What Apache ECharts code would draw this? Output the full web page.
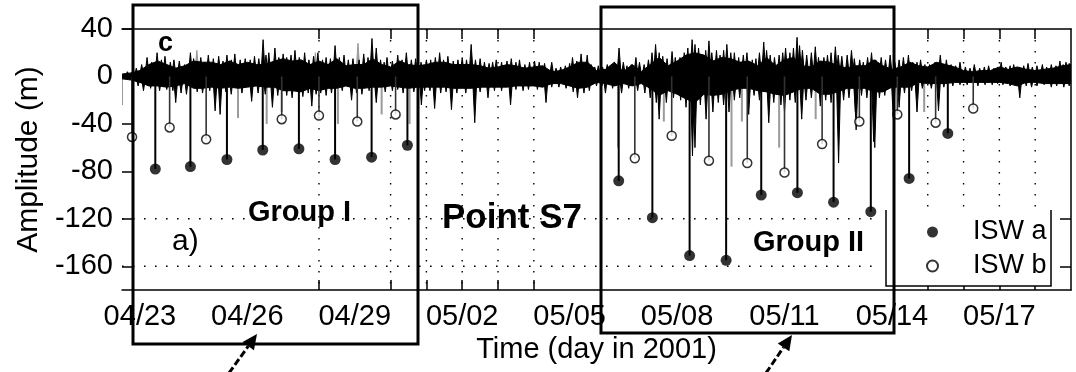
<!DOCTYPE html>
<html>
<head>
<meta charset="utf-8">
<script src="https://cdn.jsdelivr.net/npm/echarts@6/dist/echarts.min.js"></script>
<style>
  html, body { margin: 0; padding: 0; background: #fff; }
  #chart { width: 1076px; height: 372px; }
</style>
</head>
<body>
<div id="chart"></div>
<script>
const FONT = '"Liberation Sans", Arial, Helvetica, sans-serif';

// Time axis: days counted from 2001-04-23 00:00
const xTickDays = [0, 3, 6, 9, 12, 15, 18, 21, 24];
const xTickLabels = ['04/23', '04/26', '04/29', '05/02', '05/05', '05/08', '05/11', '05/14', '05/17'];
const yTickValues = [40, 0, -40, -80, -120, -160];
const gridDays = [5, 7, 8, 9, 10, 11, 22, 23, 24, 25];
const gridLevels = [-120, -160];

// Solid core of the amplitude record, sampled every quarter day from day -0.5
const bandStart = -0.5;
const bandStep = 0.25;
const coreHigh = [
  2, 3, 5, 10, 13, 10, 7, 9, 13, 12,
  12, 10, 13, 10, 12, 10, 10, 13, 15, 13,
  14, 10, 13, 10, 15, 9, 10, 10, 15, 10,
  8, 13, 10, 9, 10, 12, 12, 10, 10, 10,
  9, 7, 8, 10, 9, 7, 8, 9, 4, 5,
  8, 12, 12, 5, 6, 12, 4, 10, 4, 10,
  16, 9, 13, 18, 20, 18, 13, 16, 15, 12,
  13, 9, 16, 9, 14, 16, 9, 8, 13, 12,
  9, 7, 9, 9, 14, 9, 6, 8, 12, 9,
  8, 12, 10, 8, 5, 4, 5, 5, 8, 6,
  8, 6, 5, 6, 7, 9, 10
];
const coreLow = [
  -2, -3, -5, -8, -8, -9, -8, -6, -10, -10,
  -9, -10, -9, -10, -9, -8, -9, -9, -12, -12,
  -13, -10, -12, -10, -10, -8, -10, -10, -9, -9,
  -8, -9, -10, -9, -9, -9, -9, -10, -10, -10,
  -9, -9, -9, -9, -8, -8, -8, -9, -6, -6,
  -8, -10, -9, -5, -6, -8, -6, -8, -6, -10,
  -16, -12, -15, -19, -22, -15, -16, -15, -12, -10,
  -10, -12, -13, -15, -16, -13, -10, -10, -15, -15,
  -13, -10, -10, -10, -13, -13, -9, -9, -9, -5,
  -6, -6, -6, -5, -5, -5, -5, -5, -5, -6,
  -8, -5, -5, -6, -6, -6, -6
];

// Individual oscillation crests [day, amplitude m]
const crests = [
  [-0.35, 4], [-0.1, 7], [0.05, 10], [0.2, 16], [0.33, 12], [0.48, 20], [0.6, 14], [0.7, 17], [0.85, 12], [0.95, 14],
  [1.1, 13], [1.25, 10], [1.41, 20], [1.5, 15], [1.7, 16], [1.8, 12], [1.91, 18],
  [2.05, 15], [2.2, 17], [2.32, 13], [2.43, 18], [2.55, 14], [2.65, 19], [2.8, 14], [2.94, 15],
  [3.08, 14], [3.2, 17], [3.32, 15], [3.44, 31], [3.52, 18], [3.6, 20], [3.77, 24], [3.88, 16], [4.0, 19],
  [4.1, 16], [4.22, 18], [4.33, 22], [4.45, 16], [4.6, 20], [4.72, 14], [4.85, 17], [4.97, 20],
  [5.1, 14], [5.2, 16], [5.32, 15], [5.45, 26], [5.57, 16], [5.7, 18], [5.82, 14], [5.95, 15],
  [6.12, 14], [6.25, 19], [6.37, 16], [6.48, 32], [6.6, 24], [6.72, 14], [6.82, 12], [6.9, 16],
  [7.05, 13], [7.2, 18], [7.32, 14], [7.44, 20], [7.58, 14], [7.7, 15], [7.85, 12], [8.0, 14],
  [8.12, 14], [8.25, 16], [8.37, 20], [8.48, 14], [8.6, 17], [8.75, 13], [8.88, 14], [9.0, 16],
  [9.12, 14], [9.25, 27], [9.37, 14], [9.5, 15], [9.62, 12], [9.75, 11], [9.85, 12], [9.95, 14],
  [10.1, 12], [10.25, 13], [10.37, 15], [10.5, 12], [10.6, 14], [10.75, 10], [10.88, 12], [11.02, 13],
  [11.15, 12], [11.3, 11], [11.5, 12], [11.62, 7], [11.75, 8], [11.88, 9], [12.0, 11],
  [12.08, 16], [12.2, 13], [12.32, 19], [12.49, 18], [12.6, 10], [12.7, 8], [12.8, 9], [12.92, 8],
  [13.05, 10], [13.15, 9], [13.25, 12], [13.38, 24], [13.5, 12], [13.6, 9], [13.72, 10], [13.85, 16], [13.95, 12],
  [14.08, 10], [14.2, 14], [14.3, 20], [14.4, 27], [14.5, 20], [14.6, 17], [14.72, 15], [14.86, 21], [14.95, 16],
  [15.08, 16], [15.2, 20], [15.3, 24], [15.42, 31], [15.5, 27], [15.6, 24], [15.72, 18], [15.8, 22], [15.89, 30], [15.97, 20],
  [16.1, 22], [16.2, 18], [16.3, 22], [16.39, 27], [16.5, 20], [16.6, 20], [16.72, 16], [16.85, 18], [16.95, 20],
  [17.1, 14], [17.2, 15], [17.3, 20], [17.42, 29], [17.5, 22], [17.6, 18], [17.72, 16], [17.85, 18], [17.95, 20],
  [18.03, 24], [18.15, 20], [18.25, 24], [18.35, 33], [18.42, 26], [18.5, 22], [18.62, 18], [18.75, 20], [18.86, 25], [18.95, 16],
  [19.1, 16], [19.2, 18], [19.3, 20], [19.42, 25], [19.5, 18], [19.6, 17], [19.75, 18], [19.87, 22], [19.95, 15],
  [20.1, 14], [20.2, 12], [20.32, 16], [20.43, 20], [20.55, 14], [20.7, 16], [20.82, 14], [20.95, 18],
  [21.08, 12], [21.2, 14], [21.32, 16], [21.46, 18], [21.58, 12], [21.7, 12], [21.8, 14], [21.92, 10],
  [22.05, 10], [22.2, 12], [22.35, 18], [22.52, 14], [22.65, 10], [22.78, 9], [22.9, 12],
  [23.05, 8], [23.18, 7], [23.3, 10], [23.45, 7], [23.58, 8], [23.7, 9], [23.85, 7], [23.95, 8],
  [24.05, 12], [24.18, 8], [24.3, 9], [24.4, 10], [24.55, 8], [24.68, 9], [24.8, 11], [24.92, 8],
  [25.05, 9], [25.2, 10], [25.32, 8], [25.45, 10], [25.58, 9], [25.69, 13], [25.78, 10], [25.86, 12], [25.95, 11]
];
// Individual oscillation troughs [day, amplitude m]
const troughs = [
  [-0.05, -8], [0.1, -12], [0.3, -10], [0.55, -12], [0.75, -11], [0.92, -12], [1.0, -22],
  [1.15, -14], [1.3, -15], [1.6, -13], [1.75, -14], [1.95, -12],
  [2.1, -29], [2.24, -32], [2.4, -13], [2.55, -15], [2.85, -14],
  [3.12, -21], [3.3, -14], [3.5, -15], [3.7, -26], [3.85, -16],
  [4.1, -16], [4.25, -18], [4.55, -17], [4.7, -14], [4.8, -25], [4.92, -15],
  [5.05, -14], [5.2, -16], [5.35, -14], [5.65, -12], [5.91, -20],
  [6.05, -14], [6.2, -15], [6.4, -12], [6.6, -22], [6.85, -13],
  [7.05, -12], [7.2, -11], [7.35, -14], [7.65, -13], [7.86, -24], [7.95, -12],
  [8.1, -12], [8.23, -27], [8.4, -14], [8.55, -13], [8.7, -28], [8.85, -14],
  [9.1, -14], [9.35, -39], [9.5, -13], [9.72, -18], [9.9, -12],
  [10.1, -12], [10.35, -24], [10.5, -11], [10.7, -12], [10.85, -11],
  [11.1, -11], [11.34, -22], [11.5, -9], [11.7, -9], [11.9, -10],
  [12.1, -13], [12.22, -18], [12.4, -14], [12.55, -12], [12.75, -8], [12.9, -8],
  [13.0, -14], [13.2, -10], [13.45, -14], [13.65, -10], [13.9, -12],
  [14.1, -14], [14.25, -18], [14.42, -22], [14.5, -36], [14.7, -22], [14.9, -18],
  [15.1, -20], [15.25, -26], [15.43, -67], [15.5, -60], [15.65, -24], [15.81, -36], [16.0, -30],
  [16.15, -22], [16.3, -24], [16.45, -30], [16.6, -20], [16.75, -18], [17.0, -32],
  [17.15, -16], [17.3, -20], [17.56, -39], [17.7, -22], [17.9, -24], [18.0, -30],
  [18.15, -20], [18.3, -22], [18.48, -36], [18.6, -20], [18.75, -18], [19.0, -25],
  [19.15, -20], [19.3, -22], [19.51, -73], [19.65, -20], [19.8, -18], [19.98, -30], [20.0, -45],
  [20.15, -16], [20.3, -18], [20.49, -55], [20.52, -60], [20.65, -18], [20.8, -16], [21.04, -36],
  [21.2, -26], [21.35, -14], [21.55, -12], [21.7, -30], [21.85, -10],
  [22.1, -10], [22.3, -29], [22.45, -9], [22.7, -8], [22.9, -7],
  [23.1, -7], [23.4, -8], [23.6, -7], [23.8, -7], [23.95, -6],
  [24.1, -7], [24.3, -8], [24.57, -18], [24.75, -8], [24.9, -9],
  [25.05, -8], [25.25, -7], [25.45, -9], [25.6, -8], [25.8, -9], [25.95, -8]
];
// Second (lighter) trace
const grayTrace = [
  [-0.5, -24], [1.59, 22], [2.74, -35], [3.54, -40], [3.96, -30], [4.9, 20], [5.53, -40], [6.09, 28],
  [6.75, -32], [7.53, -40], [13.35, -60], [14.63, -38], [16.52, -76], [16.81, -38], [17.85, -60],
  [18.87, -36], [21.9, -30]
];

// Internal solitary wave amplitudes [day, amplitude m]
const iswA = [
  [0.43, -78], [1.41, -76], [2.43, -70], [3.43, -62], [4.44, -61], [5.45, -70], [6.47, -68], [7.47, -58],
  [13.37, -88], [14.31, -119], [15.35, -151], [16.37, -155], [17.35, -100], [18.36, -98], [19.37, -106],
  [20.41, -114], [21.48, -86], [22.56, -48]
];
const iswB = [
  [-0.22, -51], [0.83, -43], [1.85, -53], [3.96, -36], [5.0, -33], [6.07, -38], [7.14, -32],
  [13.82, -69], [14.85, -50], [15.89, -71], [16.96, -73], [18.0, -81], [19.05, -57], [20.09, -38],
  [21.15, -32], [22.22, -39], [23.27, -27]
];

const chart = echarts.init(document.getElementById('chart'), null, { renderer: 'canvas' });

// Vertical stem from zero to the value
function stemSeries(name, data, color, width, z) {
  return {
    name, type: 'custom', z, silent: true, clip: true,
    data,
    renderItem(params, api) {
      const p0 = api.coord([api.value(0), 0]);
      const p1 = api.coord([api.value(0), api.value(1)]);
      return { type: 'line', shape: { x1: p0[0], y1: p0[1], x2: p1[0], y2: p1[1] },
               style: { stroke: color, lineWidth: width } };
    }
  };
}

// Narrow spike (triangle) from zero to the value
function spikeSeries(name, data, color, z) {
  return {
    name, type: 'custom', z, silent: true, clip: true,
    data,
    renderItem(params, api) {
      const b = api.coord([api.value(0), 0]);
      const t = api.coord([api.value(0), api.value(1)]);
      return { type: 'polygon', shape: { points: [[b[0] - 2.2, b[1]], [t[0], t[1]], [b[0] + 2.2, b[1]]] },
               style: { fill: color, stroke: color, lineWidth: 1 } };
    }
  };
}

const dotted = { stroke: '#000', lineWidth: 1.4, lineDash: [1.6, 9.4] };
const axisLineStyle = { color: '#000', width: 1.5 };

const option = {
  animation: false,
  backgroundColor: '#fff',
  grid: { left: 122, right: 5, top: 29, bottom: 82 },
  xAxis: [
    {
      type: 'value', min: -0.5, max: 26, position: 'bottom',
      name: 'Time (day in 2001)', nameLocation: 'middle', nameGap: 44,
      nameTextStyle: { fontFamily: FONT, fontSize: 29, color: '#000' },
      axisLine: { show: true, onZero: false, lineStyle: axisLineStyle },
      axisTick: { show: true, inside: true, length: 10, customValues: gridDays, lineStyle: axisLineStyle },
      axisLabel: {
        show: true, customValues: xTickDays, margin: 12,
        fontFamily: FONT, fontSize: 29, color: '#000',
        formatter: v => xTickLabels[xTickDays.indexOf(Math.round(v))]
      },
      splitLine: { show: false }
    },
    {
      type: 'value', min: -0.5, max: 26, position: 'top',
      axisLine: { show: true, onZero: false, lineStyle: axisLineStyle },
      axisTick: { show: true, inside: true, length: 10, customValues: gridDays, lineStyle: axisLineStyle },
      axisLabel: { show: false },
      splitLine: { show: false }
    }
  ],
  yAxis: [
    {
      type: 'value', min: -180, max: 40, position: 'left',
      name: 'Amplitude (m)', nameLocation: 'middle', nameGap: 76, nameRotate: 90,
      nameTextStyle: { fontFamily: FONT, fontSize: 30, color: '#000' },
      axisLine: { show: false, onZero: false },
      axisTick: { show: true, inside: true, length: 10, customValues: yTickValues, lineStyle: axisLineStyle },
      axisLabel: { show: true, customValues: yTickValues, margin: 9, fontFamily: FONT, fontSize: 29, color: '#000' },
      splitLine: { show: false }
    },
    {
      type: 'value', min: -180, max: 40, position: 'right',
      axisLine: { show: true, onZero: false, lineStyle: axisLineStyle },
      axisTick: { show: true, inside: true, length: 11, customValues: gridLevels, lineStyle: axisLineStyle },
      axisLabel: { show: false },
      splitLine: { show: false }
    }
  ],
  legend: {
    orient: 'vertical', left: 926, top: 217, z: 8,
    itemWidth: 11, itemHeight: 11, itemGap: 4, padding: 0,
    textStyle: { fontFamily: FONT, fontSize: 27, color: '#000', lineHeight: 30, padding: [0, 0, 0, 30] },
    data: [{ name: 'ISW a', icon: 'circle' }, { name: 'ISW b', icon: 'circle' }]
  },
  series: [
    {
      name: 'grid', type: 'custom', z: 1, silent: true, clip: true,
      data: [0],
      renderItem(params, api) {
        const children = [];
        gridLevels.forEach(v => {
          const a = api.coord([-0.5, v]), b = api.coord([20.45, v]);
          children.push({ type: 'line', shape: { x1: a[0], y1: a[1], x2: b[0], y2: b[1] }, style: dotted });
        });
        gridDays.forEach(d => {
          const a = api.coord([d, 40]), b = api.coord([d, -180]);
          children.push({ type: 'line', shape: { x1: a[0], y1: a[1], x2: b[0], y2: b[1] }, style: dotted });
        });
        return { type: 'group', children };
      }
    },
    spikeSeries('gray crests', grayTrace.filter(p => p[1] > 0), '#9a9a9a', 2),
    stemSeries('gray troughs', grayTrace.filter(p => p[1] < 0), '#9a9a9a', 2, 2),
    {
      name: 'record', type: 'custom', z: 3, silent: true, clip: true,
      data: [0],
      renderItem(params, api) {
        const top = coreHigh.map((v, i) => api.coord([bandStart + i * bandStep, v]));
        const bottom = coreLow.map((v, i) => api.coord([bandStart + i * bandStep, v])).reverse();
        return { type: 'polygon', shape: { points: top.concat(bottom) },
                 style: { fill: '#000', stroke: '#000', lineWidth: 1 } };
      }
    },
    spikeSeries('crests', crests, '#000', 3),
    spikeSeries('troughs', troughs, '#000', 3),
    stemSeries('ISW b stems', iswB, '#333', 1.6, 3),
    stemSeries('ISW a stems', iswA, '#000', 2, 3),
    {
      name: 'ISW a', type: 'scatter', z: 4, data: iswA, symbol: 'circle', symbolSize: 11,
      itemStyle: { color: '#000' }, clip: false
    },
    {
      name: 'ISW b', type: 'scatter', z: 4, data: iswB, symbol: 'circle', symbolSize: 9,
      itemStyle: { color: '#fff', borderColor: '#000', borderWidth: 1.5 }, clip: false
    }
  ],
  graphic: []
};

// Legend frame (open on top) drawn over the record
option.graphic.push(
  { type: 'rect', z: 6, silent: true, shape: { x: 886, y: 210, width: 165, height: 76 }, style: { fill: '#fff' } },
  { type: 'polyline', z: 7, silent: true, shape: { points: [[886, 210], [886, 286], [1051, 286], [1051, 210]] },
    style: { stroke: '#000', lineWidth: 1.5, fill: null } }
);

// Annotations
const note = (text, x, y, size, bold) => ({
  type: 'text', z: 15, silent: true,
  style: { text, x, y, font: (bold ? 'bold ' : '') + size + 'px ' + FONT, fill: '#000',
           textAlign: 'left', textVerticalAlign: 'middle' }
});
option.graphic.push(
  note('c', 158, 44, 27, true),
  note('a)', 172, 242, 30, false),
  note('Group I', 248, 213, 29, true),
  note('Point S7', 442, 218, 35, true),
  note('Group II', 753, 243, 29, true)
);

// Group frames
option.graphic.push(
  { type: 'rect', z: 20, silent: true, shape: { x: 133, y: 5, width: 285, height: 339 },
    style: { fill: null, stroke: '#000', lineWidth: 3 } },
  { type: 'rect', z: 20, silent: true, shape: { x: 601, y: 7, width: 293, height: 326 },
    style: { fill: null, stroke: '#000', lineWidth: 3 } }
);

// Arrows pointing at the two groups
function arrow(x1, y1, x2, y2) {
  const dx = x2 - x1, dy = y2 - y1, len = Math.hypot(dx, dy);
  const ux = dx / len, uy = dy / len, head = 15, half = 7;
  const bx = x2 - ux * head, by = y2 - uy * head;
  return [
    { type: 'line', z: 20, silent: true, shape: { x1, y1, x2: bx, y2: by },
      style: { stroke: '#000', lineWidth: 3, lineDash: [7, 3] } },
    { type: 'polygon', z: 20, silent: true,
      shape: { points: [[x2, y2], [bx - uy * half, by + ux * half], [bx + uy * half, by - ux * half]] },
      style: { fill: '#000' } }
  ];
}
option.graphic.push(...arrow(229, 373, 257, 334), ...arrow(766, 373, 792, 335));

chart.setOption(option);
</script>
</body>
</html>
